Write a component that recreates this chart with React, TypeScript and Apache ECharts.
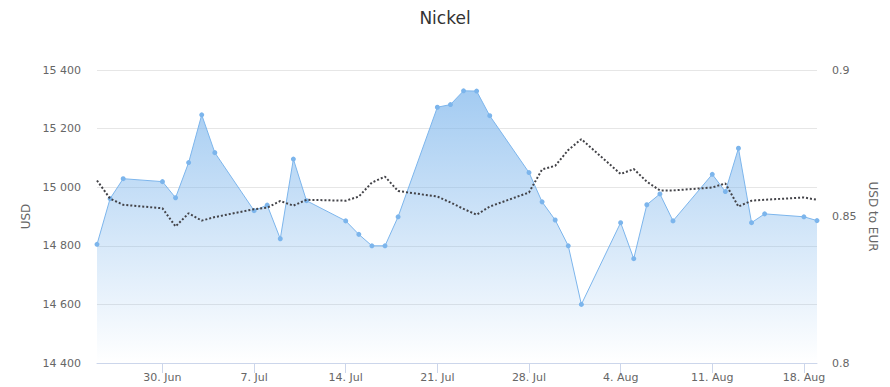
import React, { useEffect, useRef } from "react";
import * as echarts from "echarts";

const dates: string[] = [
  "2025-06-25", "2025-06-26", "2025-06-27", "2025-06-30", "2025-07-01", "2025-07-02",
  "2025-07-03", "2025-07-04", "2025-07-07", "2025-07-08", "2025-07-09", "2025-07-10",
  "2025-07-11", "2025-07-14", "2025-07-15", "2025-07-16", "2025-07-17", "2025-07-18",
  "2025-07-21", "2025-07-22", "2025-07-23", "2025-07-24", "2025-07-25", "2025-07-28",
  "2025-07-29", "2025-07-30", "2025-07-31", "2025-08-01", "2025-08-04", "2025-08-05",
  "2025-08-06", "2025-08-07", "2025-08-08", "2025-08-11", "2025-08-12", "2025-08-13",
  "2025-08-14", "2025-08-15", "2025-08-18", "2025-08-19",
];

const nickelUsd: number[] = [
  14805, 14961, 15029, 15019, 14964, 15084,
  15247, 15118, 14920, 14939, 14824, 15096,
  14954, 14885, 14839, 14800, 14800, 14899,
  15273, 15282, 15329, 15328, 15244, 15050,
  14950, 14888, 14800, 14600, 14879, 14756,
  14940, 14977, 14885, 15044, 14985, 15133,
  14879, 14909, 14899, 14886,
];

const usdToEur: number[] = [
  0.8623, 0.8561, 0.854, 0.8528, 0.8466, 0.8511,
  0.8486, 0.8498, 0.8525, 0.853, 0.8553, 0.8537,
  0.8557, 0.8554, 0.8568, 0.8616, 0.8636, 0.8587,
  0.8568, 0.8548, 0.8526, 0.8506, 0.8534, 0.8582,
  0.8661, 0.8673, 0.8727, 0.8764, 0.8645, 0.8662,
  0.8619, 0.8589, 0.8589, 0.8599, 0.8613, 0.8534,
  0.8554, 0.8557, 0.8565, 0.8557,
];

const tickDates: string[] = [
  "2025-06-30", "2025-07-07", "2025-07-14", "2025-07-21",
  "2025-07-28", "2025-08-04", "2025-08-11", "2025-08-18",
];
const tickLabels: string[] = [
  "30. Jun", "7. Jul", "14. Jul", "21. Jul",
  "28. Jul", "4. Aug", "11. Aug", "18. Aug",
];

const xMin = "2025-06-25";
const xMax = "2025-08-19";

const DAY = 86400000;
const ts = (s: string) => Date.parse(s + "T00:00:00Z");
const dayIdx = (s: string) => Math.round((ts(s) - ts(xMin)) / DAY);

const FONT = "DejaVu Sans, sans-serif";

export default function App() {
  const ref = useRef<HTMLDivElement>(null);
  useEffect(() => {
    if (!ref.current) return;
    const chart = echarts.init(ref.current, undefined, { renderer: "svg" });
    const tickIdx = tickDates.map(dayIdx);
    const option: any = {
      animation: false,
      backgroundColor: "#ffffff",
      textStyle: { fontFamily: FONT },
      title: {
        text: "Nickel",
        left: "center",
        top: 4,
        textStyle: { fontFamily: FONT, fontSize: 17, fontWeight: "normal", color: "#333333" },
      },
      grid: { left: 97, right: 73, top: 70, bottom: 24 },
      xAxis: {
        type: "value",
        min: 0,
        max: dayIdx(xMax),
        axisLine: { show: true, lineStyle: { color: "#ccd6eb", width: 1 } },
        axisTick: {
          show: true,
          length: 10,
          lineStyle: { color: "#ccd6eb" },
          customValues: tickIdx,
        },
        axisLabel: {
          customValues: tickIdx,
          margin: 9,
          color: "#666666",
          fontSize: 11,
          fontFamily: FONT,
          formatter: (v: number) => {
            const i = tickIdx.indexOf(Math.round(v));
            return i >= 0 ? tickLabels[i] : "";
          },
        },
        splitLine: { show: false },
      },
      yAxis: [
        {
          type: "value",
          min: 14400,
          max: 15400,
          interval: 200,
          name: "USD",
          nameLocation: "middle",
          nameGap: 65,
          nameRotate: 90,
          nameTextStyle: { color: "#666666", fontSize: 12, fontFamily: FONT },
          axisLine: { show: false },
          axisTick: { show: false },
          axisLabel: {
            margin: 16,
            color: "#666666",
            fontSize: 11,
            fontFamily: FONT,
            formatter: (v: number) => String(v).replace(/\B(?=(\d{3})+(?!\d))/g, " "),
          },
          splitLine: { show: true, lineStyle: { color: "#e6e6e6", width: 1 } },
        },
        {
          type: "value",
          min: 0.8,
          max: 0.9,
          interval: 0.05,
          position: "right",
          name: "USD to EUR",
          nameLocation: "middle",
          nameGap: 50,
          nameRotate: -90,
          nameTextStyle: { color: "#666666", fontSize: 12, fontFamily: FONT },
          axisLine: { show: false },
          axisTick: { show: false },
          axisLabel: {
            margin: 15,
            color: "#666666",
            fontSize: 11,
            fontFamily: FONT,
            formatter: (v: number) => String(+v.toFixed(2)),
          },
          splitLine: { show: false },
        },
      ],
      series: [
        {
          name: "Nickel",
          type: "line",
          yAxisIndex: 0,
          data: dates.map((d, i) => [dayIdx(d), nickelUsd[i]]),
          symbol: "circle",
          symbolSize: 5,
          showSymbol: true,
          showAllSymbol: true,
          itemStyle: { color: "#7cb5ec" },
          lineStyle: { color: "#7cb5ec", width: 1 },
          areaStyle: {
            origin: "start",
            color: new echarts.graphic.LinearGradient(0, 0, 0, 1, [
              { offset: 0, color: "rgba(124,181,236,1)" },
              { offset: 1, color: "rgba(124,181,236,0)" },
            ]),
          },
          z: 2,
        },
        {
          name: "USD to EUR",
          type: "line",
          yAxisIndex: 1,
          data: dates.map((d, i) => [dayIdx(d), usdToEur[i]]),
          showSymbol: false,
          symbol: "none",
          lineStyle: { color: "#434348", width: 2, type: [2, 2] },
          z: 3,
        },
      ],
    };
    chart.setOption(option);
    return () => chart.dispose();
  }, []);
  return (
    <div
      ref={ref}
      style={{ position: "absolute", left: 0, top: 0, width: 890, height: 387 }}
    />
  );
}
